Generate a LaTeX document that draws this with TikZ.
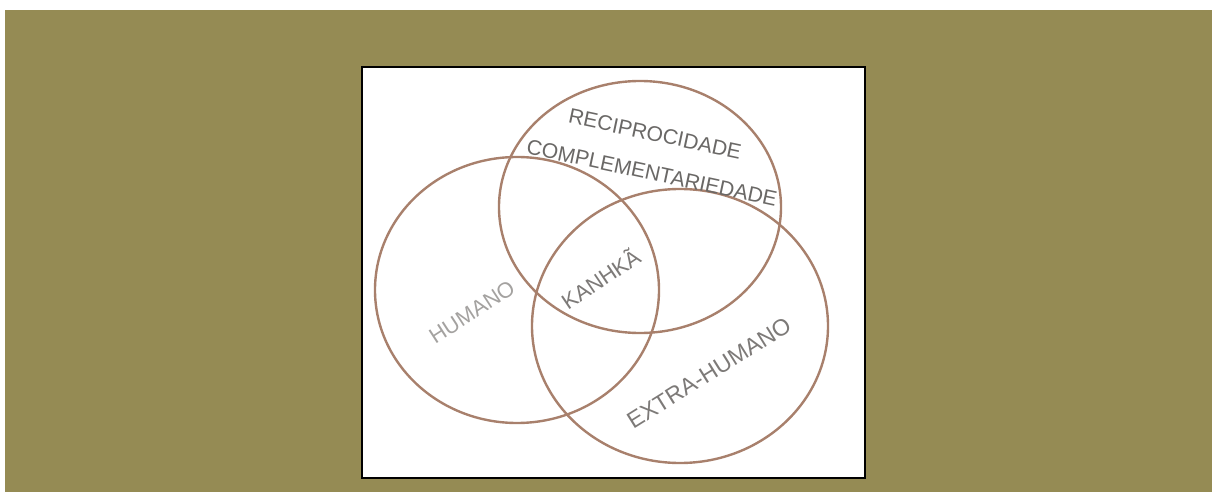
\documentclass[tikz,border=0pt]{standalone}
\usepackage{fontspec}
\setmainfont{Liberation Sans}
\usepackage{xcolor}
\usetikzlibrary{shapes.geometric, positioning}

\definecolor{fondo}{RGB}{149,139,84}
\definecolor{trazo}{RGB}{168,128,108}
\definecolor{letra}{RGB}{125,122,120}
\newcommand{\px}{0.025cm}

\begin{document}
\begin{tikzpicture}[
        x=\px, y=-\px,
        % Estilo para los conjuntos (circulos del diagrama)
        conjunto/.style={
            draw=trazo,
            ellipse,
            line width=1.7pt,
            inner sep=0pt
        },
        % Estilo para las etiquetas de los conjuntos
        etiqueta/.style={
            text=letra,
            inner sep=0pt,
            font=\fontsize{15.5}{18}\selectfont
        }
    ]

        % Fondo y marco
        \useasboundingbox (0,0) rectangle (1212,492);
        \fill[white] (0,0) rectangle (1212,492);
        \fill[fondo] (5,10) rectangle (1212,492);
        \draw[fill=white, line width=1.4pt] (362,67) rectangle (865,478);

        % 1. Conjuntos
        \node[conjunto, minimum width=284*\px, minimum height=266*\px] (humano) at (517,290) {};
        \node[conjunto, minimum width=282*\px, minimum height=252*\px] (recip) at (640,207) {};
        \node[conjunto, minimum width=296*\px, minimum height=274*\px] (extra) at (680,326) {};

        % 2. Etiquetas
        \node[etiqueta, rotate=-12, text=letra!85!black, font=\fontsize{15}{18}\selectfont] (lbrecip) at (655,134) {RECIPROCIDADE};
        \node[etiqueta, rotate=-12, text=letra!85!black, font=\fontsize{15}{18}\selectfont] (lbcompl) at (652,173) {COMPLEMENTARIEDADE};
        \node[etiqueta, rotate=33, text=letra!70!white] (lbhumano) at (472,312) {HUMANO};
        \node[etiqueta, rotate=34] (lbkanhka) at (600,278) {KANHKÃ};
        \node[etiqueta, rotate=32, font=\fontsize{16.5}{18}\selectfont] (lbextra) at (709,373) {EXTRA-HUMANO};

    \end{tikzpicture}
\end{document}
